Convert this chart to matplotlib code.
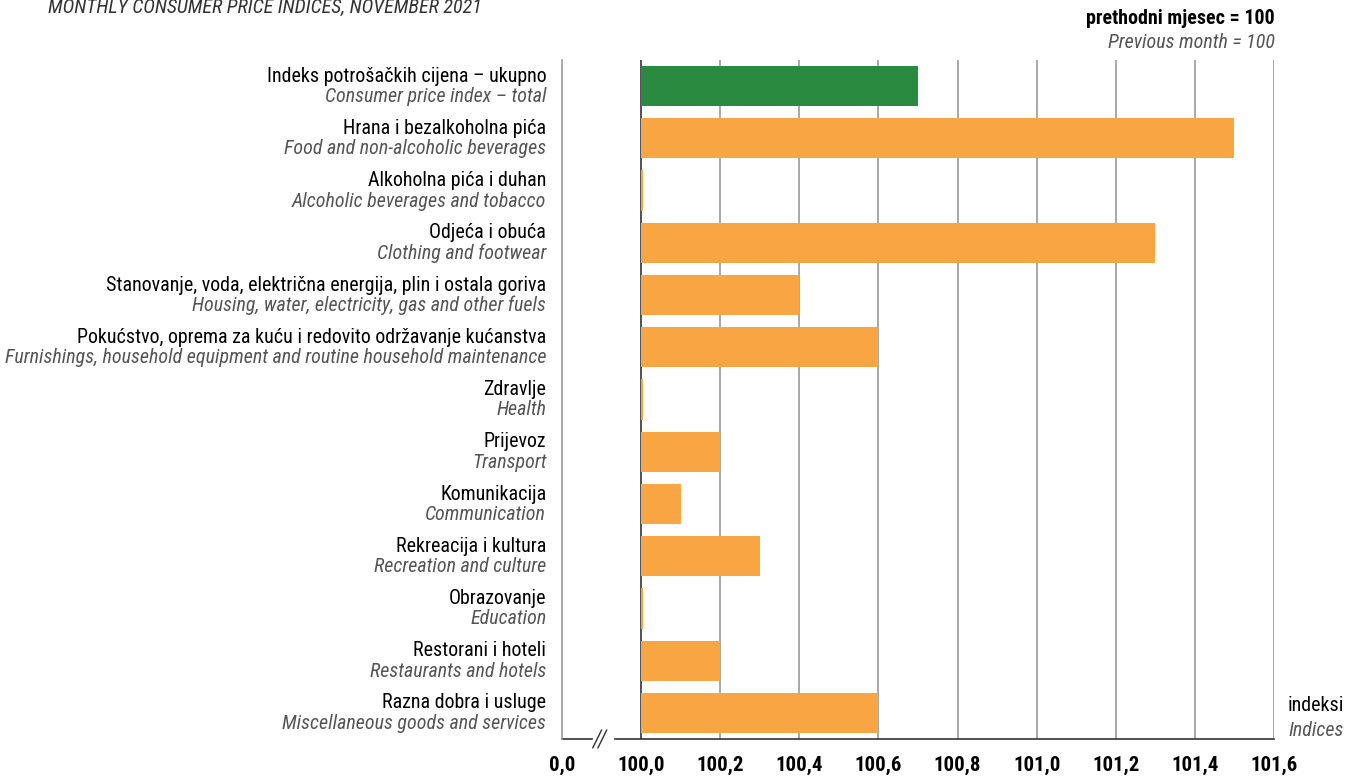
import numpy as np
from matplotlib import pyplot as plt
from matplotlib import transforms

labels_hr = [
    'Indeks potrošačkih cijena – ukupno',
    'Hrana i bezalkoholna pića',
    'Alkoholna pića i duhan',
    'Odjeća i obuća',
    'Stanovanje, voda, električna energija, plin i ostala goriva',
    'Pokućstvo, oprema za kuću i redovito održavanje kućanstva',
    'Zdravlje',
    'Prijevoz',
    'Komunikacija',
    'Rekreacija i kultura',
    'Obrazovanje',
    'Restorani i hoteli',
    'Razna dobra i usluge',
]
labels_en = [
    'Consumer price index – total',
    'Food and non-alcoholic beverages',
    'Alcoholic beverages and tobacco',
    'Clothing and footwear',
    'Housing, water, electricity, gas and other fuels',
    'Furnishings, household equipment and routine household maintenance',
    'Health',
    'Transport',
    'Communication',
    'Recreation and culture',
    'Education',
    'Restaurants and hotels',
    'Miscellaneous goods and services',
]
values = [100.7, 101.5, 100.0, 101.3, 100.4, 100.6, 100.0, 100.2, 100.1, 100.3, 100.0, 100.2, 100.6]
ticks = [99.8, 100.0, 100.2, 100.4, 100.6, 100.8, 101.0, 101.2, 101.4, 101.6]
tick_labels = ['0,0', '100,0', '100,2', '100,4', '100,6', '100,8', '101,0', '101,2', '101,4', '101,6']

plt.rcParams['font.family'] = ['Roboto Condensed', 'DejaVu Sans']

ORANGE = '#F7A643'
GREEN = '#2A8A3F'
FS = 14.4

fig = plt.figure(figsize=(13.63, 7.8), dpi=100)
ax = fig.add_axes([0.4123, 0.0526, 0.5224, 0.8705])

y = np.arange(len(values))
base = 100.0
widths = [max(v - base, 0.004) for v in values]
colors = [GREEN] + [ORANGE] * (len(values) - 1)
ax.barh(y, widths, left=base, height=0.77, color=colors, zorder=3)

ax.set_xlim(99.8, 101.6)
ax.set_ylim(len(values) - 0.5, -0.5)

# vertical gridlines
for t in ticks[1:]:
    ax.axvline(t, color='#333333' if t == 100.0 else '#9a9a9a', lw=1.2, zorder=2)

for s in ['top', 'right', 'bottom']:
    ax.spines[s].set_visible(False)
ax.spines['left'].set_color('#9a9a9a')
ax.spines['left'].set_linewidth(1.2)

# broken x axis line
tr = transforms.blended_transform_factory(ax.transData, ax.transAxes)
ax.plot([99.8, 99.876], [0, 0], color='#333333', lw=1.2, transform=tr, clip_on=False)
ax.plot([99.934, 101.6], [0, 0], color='#333333', lw=1.2, transform=tr, clip_on=False)
for dx in [0.0, 0.013]:
    ax.plot([99.878 + dx, 99.9 + dx], [-0.013, 0.013], color='#333333', lw=1.0,
            transform=tr, clip_on=False)

ax.set_xticks(ticks)
ax.set_xticklabels(tick_labels, fontsize=15, fontweight='bold')
ax.tick_params(axis='x', length=0, pad=12)
ax.set_yticks([])

# two-line category labels
ty = transforms.blended_transform_factory(ax.transAxes, ax.transData)
for i in y:
    ax.text(-0.022, i - 0.19, labels_hr[i], transform=ty, ha='right', va='center',
            fontsize=FS, color='black')
    ax.text(-0.022, i + 0.2, labels_en[i], transform=ty, ha='right', va='center',
            fontsize=FS, style='italic', color='#555555')

fig.text(0.035, 0.991, 'MONTHLY CONSUMER PRICE INDICES, NOVEMBER 2021', ha='left', va='center',
         fontsize=FS, style='italic', color='#333333')
fig.text(0.9355, 0.976, 'prethodni mjesec = 100', ha='right', va='center', fontsize=FS,
         fontweight='bold')
fig.text(0.9355, 0.946, 'Previous month = 100', ha='right', va='center', fontsize=FS,
         style='italic', color='#555555')
fig.text(0.945, 0.095, 'indeksi', ha='left', va='center', fontsize=FS)
fig.text(0.945, 0.063, 'Indices', ha='left', va='center', fontsize=FS, style='italic',
         color='#555555')

fig.savefig('out.png', dpi=100)
